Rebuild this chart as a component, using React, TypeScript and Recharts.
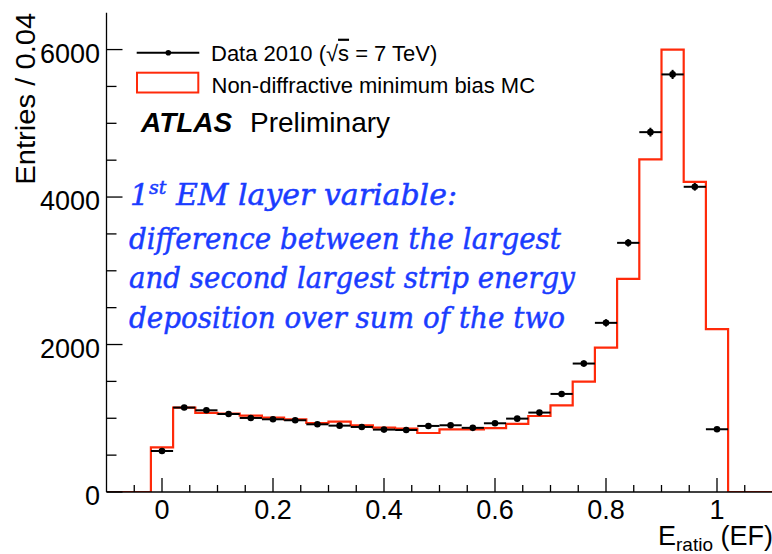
import { ComposedChart, ErrorBar, Line, Scatter, XAxis, YAxis } from "recharts"

// E_ratio bins, width 0.04
const binCenters = [
  0, 0.04, 0.08, 0.12, 0.16, 0.2, 0.24, 0.28, 0.32, 0.36, 0.4, 0.44, 0.48,
  0.52, 0.56, 0.6, 0.64, 0.68, 0.72, 0.76, 0.8, 0.84, 0.88, 0.92, 0.96, 1.0,
]
const dataCounts = [
  556, 1145, 1108, 1058, 1004, 986, 973, 918, 900, 882, 846, 841, 896, 905,
  870, 932, 995, 1077, 1330, 1742, 2294, 3379, 4880, 5663, 4139, 851,
]
const dataErr = [
  24, 34, 33, 33, 32, 31, 31, 30, 30, 30, 29, 29, 30, 30, 30, 31, 32, 33, 37,
  42, 48, 50, 60, 62, 52, 29,
]
const mcCounts = [
  606, 1145, 1072, 1063, 1036, 1009, 986, 936, 955, 905, 873, 860, 800, 850,
  850, 866, 923, 1031, 1176, 1498, 1959, 2890, 4510, 6000, 4207, 2208,
]
const BIN_HALF = 0.02

const xMajor = [0, 0.2, 0.4, 0.6, 0.8, 1]
const xMajorLabels = ["0", "0.2", "0.4", "0.6", "0.8", "1"]
const xMinor = [
  -0.05, 0.05, 0.1, 0.15, 0.25, 0.3, 0.35, 0.45, 0.5, 0.55, 0.65, 0.7, 0.75,
  0.85, 0.9, 0.95, 1.05,
]
const yMajor = [0, 2000, 4000, 6000]
const yMajorLabels = ["0", "2000", "4000", "6000"]
const yMinor = [500, 1000, 1500, 2500, 3000, 3500, 4500, 5000, 5500]

const X_DOMAIN = [-0.1, 1.1]
const Y_DOMAIN = [0, 6500]

const xTicks = [...xMajor, ...xMinor].sort((a, b) => a - b)
const yTicks = [...yMajor, ...yMinor].sort((a, b) => a - b)

const RED = "#ff2a0a"
const BLUE = "#1a3cff"
const SANS = "'Liberation Sans', Arial, Helvetica, sans-serif"
const SERIF = "'DejaVu Serif', serif"

// step outline of the MC histogram, one point per lower bin edge
const mcSteps = [
  { x: X_DOMAIN[0], y: 0 },
  ...binCenters.map((c, i) => ({ x: c - BIN_HALF, y: mcCounts[i] })),
  { x: binCenters[binCenters.length - 1] + BIN_HALF, y: 0 },
  { x: X_DOMAIN[1], y: 0 },
]

const dataPoints = binCenters.map((c, i) => ({
  x: c,
  y: dataCounts[i],
  ex: BIN_HALF,
  ey: dataErr[i],
}))

const majorIndex = (list: number[], v: number) =>
  list.findIndex((m) => Math.abs(m - v) < 1e-6)

type TickProps = { x: number; y: number; payload: { value: number } }

function BottomTick({ x, y, payload }: TickProps) {
  const i = majorIndex(xMajor, payload.value)
  const len = i >= 0 ? 14 : 7
  return (
    <g>
      <line x1={x} x2={x} y1={y} y2={y - len} stroke="#000" strokeWidth={1.3} />
      {i >= 0 && (
        <text x={x} y={y + 27.3} textAnchor="middle" fontFamily={SANS} fontSize={27} fill="#000">
          {xMajorLabels[i]}
        </text>
      )}
    </g>
  )
}

function TopTick({ x, y, payload }: TickProps) {
  const len = majorIndex(xMajor, payload.value) >= 0 ? 14 : 6
  return <line x1={x} x2={x} y1={y} y2={y + len} stroke="#000" strokeWidth={1.3} />
}

function LeftTick({ x, y, payload }: TickProps) {
  const i = majorIndex(yMajor, payload.value)
  const len = i >= 0 ? 16 : 10
  return (
    <g>
      <line x1={x} x2={x + len} y1={y} y2={y} stroke="#000" strokeWidth={1.3} />
      {i >= 0 && (
        <text x={x - 6.5} y={y + 13.3} textAnchor="end" fontFamily={SANS} fontSize={27} fill="#000">
          {yMajorLabels[i]}
        </text>
      )}
    </g>
  )
}

function RightTick({ x, y, payload }: TickProps) {
  const len = majorIndex(yMajor, payload.value) >= 0 ? 19 : 9
  return <line x1={x} x2={x - len} y1={y} y2={y} stroke="#000" strokeWidth={1.3} />
}

function DataDot(props: { cx?: number; cy?: number }) {
  return <circle cx={props.cx} cy={props.cy} r={3.3} fill="#000" />
}

function Annotations() {
  return (
    <svg
      width={772}
      height={554}
      style={{ position: "absolute", left: 0, top: 0, pointerEvents: "none" }}
    >
      {/* axis titles */}
      <text
        transform="translate(35 12.7) rotate(-90)"
        textAnchor="end"
        fontFamily={SANS}
        fontSize={27}
        textLength={172}
        lengthAdjust="spacingAndGlyphs"
      >
        Entries / 0.04
      </text>
      <text x={773} y={545} textAnchor="end" fontFamily={SANS} fontSize={27}>
        E
        <tspan fontSize={19} dy={6}>
          ratio
        </tspan>
        <tspan dy={-6}> (EF)</tspan>
      </text>

      {/* legend */}
      <line x1={136.7} x2={199.3} y1={52.7} y2={52.7} stroke="#000" strokeWidth={2} />
      <circle cx={168.3} cy={52.7} r={2.8} fill="#000" />
      <text x={211} y={60.7} fontFamily={SANS} fontSize={22}>
        Data 2010 (√<tspan style={{ textDecoration: "overline" }}>s</tspan> = 7 TeV)
      </text>
      <rect x={137} y={72.7} width={61.3} height={19.8} fill="none" stroke={RED} strokeWidth={2} />
      <text x={211.5} y={93.3} fontFamily={SANS} fontSize={22}>
        Non-diffractive minimum bias MC
      </text>
      <text x={141} y={131.7} fontFamily={SANS} fontSize={28}>
        <tspan fontWeight="bold" fontStyle="italic">
          ATLAS
        </tspan>
        <tspan x={250}>Preliminary</tspan>
      </text>

      {/* description of the variable */}
      <g
        fontFamily={SERIF}
        fontStyle="italic"
        fontSize={30}
        fill={BLUE}
        stroke={BLUE}
        strokeWidth={0.5}
      >
        <text x={130} y={205} textLength={327} lengthAdjust="spacingAndGlyphs">
          1
          <tspan fontSize={19} dy={-11}>
            st
          </tspan>
          <tspan dy={11}> EM layer variable:</tspan>
        </text>
        <text x={129} y={248.5} textLength={432} lengthAdjust="spacingAndGlyphs">
          difference between the largest
        </text>
        <text x={129} y={288.3} textLength={446} lengthAdjust="spacingAndGlyphs">
          and second largest strip energy
        </text>
        <text x={129} y={328.3} textLength={436} lengthAdjust="spacingAndGlyphs">
          deposition over sum of the two
        </text>
      </g>
    </svg>
  )
}

export default function App() {
  return (
    <div
      style={{
        position: "absolute",
        left: 0,
        top: 0,
        width: 772,
        height: 554,
        overflow: "hidden",
        background: "#fff",
      }}
    >
      <ComposedChart
        width={776}
        height={554}
        margin={{ top: 12.7, right: 3.5, bottom: 0, left: 0 }}
      >
        <XAxis
          xAxisId="bottom"
          dataKey="x"
          type="number"
          domain={X_DOMAIN}
          allowDataOverflow
          ticks={xTicks}
          interval={0}
          height={62}
          tickSize={0}
          tickMargin={0}
          tickLine={false}
          axisLine={{ stroke: "#000", strokeWidth: 1.3 }}
          tick={(p: TickProps) => <BottomTick {...p} />}
        />
        <XAxis
          xAxisId="top"
          orientation="top"
          dataKey="x"
          type="number"
          domain={X_DOMAIN}
          allowDataOverflow
          ticks={xTicks}
          interval={0}
          height={0}
          tickSize={0}
          tickMargin={0}
          tickLine={false}
          axisLine={{ stroke: "#000", strokeWidth: 1.3 }}
          tick={(p: TickProps) => <TopTick {...p} />}
        />
        <YAxis
          yAxisId="left"
          type="number"
          domain={Y_DOMAIN}
          allowDataOverflow
          ticks={yTicks}
          interval={0}
          width={106.5}
          tickSize={0}
          tickMargin={0}
          tickLine={false}
          axisLine={{ stroke: "#000", strokeWidth: 1.3 }}
          tick={(p: TickProps) => <LeftTick {...p} />}
        />
        <YAxis
          yAxisId="right"
          orientation="right"
          type="number"
          domain={Y_DOMAIN}
          allowDataOverflow
          ticks={yTicks}
          interval={0}
          width={0}
          tickSize={0}
          tickMargin={0}
          tickLine={false}
          axisLine={{ stroke: "#000", strokeWidth: 1.3 }}
          tick={(p: TickProps) => <RightTick {...p} />}
        />
        <Line
          xAxisId="bottom"
          yAxisId="left"
          data={mcSteps}
          dataKey="y"
          type="stepAfter"
          stroke={RED}
          strokeWidth={2.2}
          dot={false}
          activeDot={false}
          isAnimationActive={false}
        />
        <Scatter
          xAxisId="bottom"
          yAxisId="left"
          data={dataPoints}
          dataKey="y"
          shape={(p: { cx?: number; cy?: number }) => <DataDot {...p} />}
          isAnimationActive={false}
        >
          <ErrorBar dataKey="ex" direction="x" width={0} stroke="#000" strokeWidth={2} />
          <ErrorBar dataKey="ey" direction="y" width={0} stroke="#000" strokeWidth={2} />
        </Scatter>
      </ComposedChart>
      <Annotations />
    </div>
  )
}
